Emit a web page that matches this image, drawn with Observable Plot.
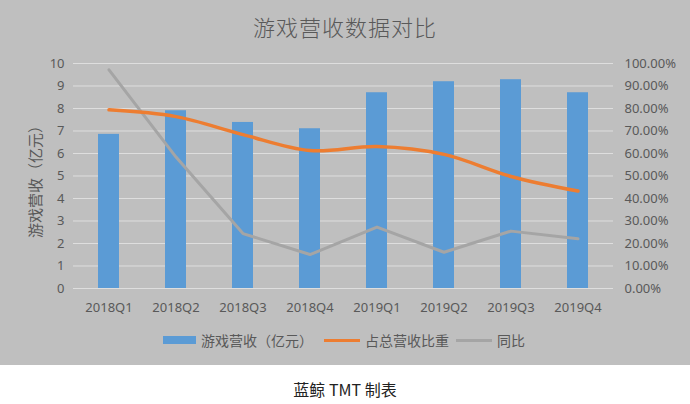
<!DOCTYPE html>
<html>
<head>
<meta charset="utf-8">
<script src="https://cdn.jsdelivr.net/npm/d3@7"></script>
<script src="https://cdn.jsdelivr.net/npm/@observablehq/plot@0.6"></script>
<style>
  html, body { margin: 0; padding: 0; background: #fff; }
  #wrap { width: 690px; height: 365px; background: #bfbfbf; position: relative; font-family: "Noto Sans CJK SC", "Noto Sans", sans-serif; }
  #title { position: absolute; left: 0; top: 10px; width: 690px; text-align: center; font-size: 22px; color: #595959; font-weight: 300; letter-spacing: 1px; }
  #chart { position: absolute; left: 0; top: 45px; }
  #ylabel { position: absolute; left: 34px; top: 178px; transform: translate(-50%, -50%) rotate(-90deg); transform-origin: center; font-size: 15px; color: #595959; white-space: nowrap; line-height: 1; }
  #legend { position: absolute; left: 0; top: 330px; width: 690px; height: 20px; font-size: 14px; color: #595959; }
  #legend .item { position: absolute; top: 0; display: flex; align-items: center; height: 20px; }
  #caption { width: 690px; text-align: center; font-size: 16px; color: #222; margin-top: 12px; font-family: "Noto Sans CJK SC", sans-serif; }
</style>
</head>
<body>
<div id="wrap">
  <div id="title">游戏营收数据对比</div>
  <div id="chart"></div>
  <div id="ylabel">游戏营收（亿元）</div>
  <div id="legend"></div>
</div>
<div id="caption">蓝鲸 TMT 制表</div>
<script>
const quarters = ["2018Q1","2018Q2","2018Q3","2018Q4","2019Q1","2019Q2","2019Q3","2019Q4"];
const revenue = [6.85, 7.9, 7.38, 7.1, 8.7, 9.19, 9.28, 8.7];          // 游戏营收（亿元）
const share = [79.4, 76.4, 68.4, 61.3, 63.1, 59.6, 49.8, 43.3];        // 占总营收比重 (%)
const yoy = [97.2, 58.4, 24.4, 15.1, 27.3, 16.1, 25.5, 22.1];          // 同比 (%)
const leftTicks = [0,1,2,3,4,5,6,7,8,9,10];
const seriesNames = ["游戏营收（亿元）", "占总营收比重", "同比"];
const colors = ["#5b9bd5", "#ed7d31", "#a5a5a5"];

const rows = quarters.map((q, i) => ({q, revenue: revenue[i], share: share[i], yoy: yoy[i]}));

const chart = Plot.plot({
  width: 690,
  height: 275,
  marginTop: 18,
  marginBottom: 32,
  marginLeft: 73,
  marginRight: 77,
  style: {background: "transparent", fontFamily: "'Noto Sans', sans-serif", fontSize: "13px", color: "#595959"},
  x: {domain: quarters, paddingInner: 0.69, paddingOuter: 0.345, label: null},
  y: {domain: [0, 10], label: null},
  marks: [
    Plot.gridY(leftTicks, {stroke: "#dedede", strokeOpacity: 1, strokeWidth: 1}),
    Plot.barY(rows, {x: "q", y: "revenue", fill: colors[0]}),
    Plot.line(rows, {x: "q", y: d => d.yoy / 10, stroke: colors[2], strokeWidth: 3}),
    Plot.line(rows, {x: "q", y: d => d.share / 10, stroke: colors[1], strokeWidth: 3.5, curve: "catmull-rom"}),
    Plot.axisY(leftTicks, {anchor: "left", tickSize: 0, tickPadding: 9, label: null, fill: "#595959", fontSize: 13}),
    Plot.axisY(leftTicks, {anchor: "right", tickSize: 0, tickPadding: 11, label: null, fill: "#595959", fontSize: 13, tickFormat: d => (d * 10).toFixed(2) + "%"}),
    Plot.axisX({tickSize: 0, tickPadding: 14, label: null, fill: "#595959", fontSize: 13})
  ]
});
document.getElementById("chart").appendChild(chart);

const legend = document.getElementById("legend");
const legendPos = [163, 324, 456];
seriesNames.forEach((name, i) => {
  const item = document.createElement("div");
  item.className = "item";
  item.style.left = legendPos[i] + "px";
  const sw = document.createElement("span");
  sw.style.display = "inline-block";
  sw.style.width = (i === 0 ? 33 : 36) + "px";
  sw.style.height = (i === 0 ? 8 : 3) + "px";
  sw.style.background = colors[i];
  sw.style.marginRight = "5px";
  const tx = document.createElement("span");
  tx.textContent = name;
  item.appendChild(sw);
  item.appendChild(tx);
  legend.appendChild(item);
});
</script>
</body>
</html>
